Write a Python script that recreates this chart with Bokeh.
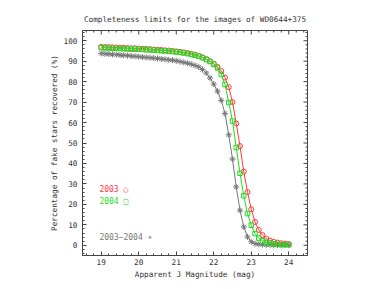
from bokeh.plotting import figure
from bokeh.models import SingleIntervalTicker, Range1d, Label
from bokeh.embed import file_html
from bokeh.resources import INLINE

# ---- data ----
mag = [19.0, 19.1, 19.2, 19.3, 19.4, 19.5, 19.6, 19.7, 19.8, 19.9,
       20.0, 20.1, 20.2, 20.3, 20.4, 20.5, 20.6, 20.7, 20.8, 20.9,
       21.0, 21.1, 21.2, 21.3, 21.4, 21.5, 21.6, 21.7, 21.8, 21.9,
       22.0, 22.1, 22.2, 22.3, 22.4, 22.5, 22.6, 22.7, 22.8, 22.9,
       23.0, 23.1, 23.2, 23.3, 23.4, 23.5, 23.6, 23.7, 23.8, 23.9, 24.0]

pct_2003 = [97.0, 96.9, 96.9, 96.8, 96.7, 96.6, 96.5, 96.4, 96.3, 96.3,
            96.2, 96.1, 96.0, 95.9, 95.7, 95.6, 95.5, 95.3, 95.2, 95.0,
            94.8, 94.6, 94.3, 94.0, 93.6, 93.2, 92.6, 91.9, 91.0, 90.0,
            88.8, 87.2, 85.2, 82.0, 77.3, 70.0, 59.5, 48.5, 36.0, 26.0,
            17.6, 11.4, 7.5, 5.0, 3.3, 2.3, 1.7, 1.3, 1.0, 0.8, 0.6]

pct_2004 = [96.6, 96.5, 96.4, 96.3, 96.3, 96.2, 96.1, 96.0, 95.9, 95.9,
            95.8, 95.7, 95.6, 95.5, 95.4, 95.2, 95.1, 95.0, 94.8, 94.7,
            94.5, 94.3, 94.0, 93.7, 93.3, 92.9, 92.4, 91.7, 90.8, 89.8,
            88.5, 86.7, 83.5, 78.6, 69.8, 60.7, 47.8, 35.2, 24.2, 15.5,
            9.8, 5.7, 3.5, 2.2, 1.5, 1.0, 0.7, 0.5, 0.4, 0.3, 0.3]

pct_both = [93.8, 93.6, 93.5, 93.3, 93.2, 93.0, 92.9, 92.7, 92.5, 92.4,
            92.2, 92.0, 91.8, 91.7, 91.5, 91.3, 91.1, 90.9, 90.7, 90.5,
            90.2, 89.8, 89.4, 89.0, 88.5, 87.9, 87.2, 85.9, 84.2, 81.8,
            78.8, 75.3, 70.8, 64.4, 54.0, 42.1, 28.5, 17.1, 9.0, 4.1,
            1.7, 0.8, 0.5, 0.3, 0.2, 0.2, 0.1, 0.1, 0.1, 0.1, 0.1]

series_labels = ["2003 \u25cb", "2004 \u25a1", "2003\u20132004 \u2217"]

# tick positions (used for the ticks mirrored on the top and right edges)
x_major = [19, 20, 21, 22, 23, 24]
x_minor = [round(18.6 + 0.2 * i, 1) for i in range(30) if round(18.6 + 0.2 * i, 1) not in x_major]
y_major = [0, 10, 20, 30, 40, 50, 60, 70, 80, 90, 100]
y_minor = [v for v in range(-4, 105, 2) if v not in y_major]

X0, X1, Y0, Y1 = 18.5, 24.5, -5, 105

RED = "#ff3b3b"
GREEN = "#22dd22"
GRAY = "#777777"
FONT = "DejaVu Sans Mono"
FS = "7.7px"
FRAME = "#444444"

p = figure(width=373, height=281, output_backend="svg", toolbar_location=None,
           x_range=Range1d(X0, X1), y_range=Range1d(Y0, Y1),
           min_border_left=82, min_border_right=66, min_border_top=30,
           min_border_bottom=0,
           title="Completeness limits for the images of WD0644+375")
p.title.text_font = FONT
p.title.text_font_size = FS
p.title.text_font_style = "normal"
p.title.text_color = "#333333"
p.title.align = "center"
p.title.standoff = 14
p.grid.visible = False
p.outline_line_color = FRAME
p.background_fill_color = "white"
p.border_fill_color = "white"

p.xaxis.ticker = SingleIntervalTicker(interval=1, num_minor_ticks=5)
p.yaxis.ticker = SingleIntervalTicker(interval=10, num_minor_ticks=5)
p.xaxis.axis_label = "Apparent J Magnitude (mag)"
p.yaxis.axis_label = "Percentage of fake stars recovered (%)"
for ax in (p.xaxis[0], p.yaxis[0]):
    ax.major_tick_in = 4
    ax.major_tick_out = 0
    ax.minor_tick_in = 2
    ax.minor_tick_out = 0
    ax.axis_line_color = FRAME
    ax.major_tick_line_color = FRAME
    ax.minor_tick_line_color = FRAME
    ax.major_label_text_font = FONT
    ax.major_label_text_font_size = FS
    ax.major_label_text_color = "#333333"
    ax.axis_label_text_font = FONT
    ax.axis_label_text_font_size = FS
    ax.axis_label_text_font_style = "normal"
    ax.axis_label_text_color = "#333333"
p.xaxis.major_label_standoff = 3
p.xaxis.axis_label_standoff = 2
p.yaxis.major_label_standoff = 5
p.yaxis.axis_label_standoff = 2

# mirrored inward ticks on top and right edges (half of each dash is clipped by the frame)
p.scatter(x_major, [Y1] * len(x_major), marker="dash", angle=1.5708, size=8,
          line_color=FRAME, line_width=1)
p.scatter(x_minor, [Y1] * len(x_minor), marker="dash", angle=1.5708, size=4,
          line_color=FRAME, line_width=1)
p.scatter([X1] * len(y_major), y_major, marker="dash", size=8,
          line_color=FRAME, line_width=1)
p.scatter([X1] * len(y_minor), y_minor, marker="dash", size=4,
          line_color=FRAME, line_width=1)

# series
p.line(mag, pct_both, line_color=GRAY, line_width=1)
p.scatter(mag, pct_both, marker="asterisk", size=6, line_color=GRAY, line_width=1)

p.line(mag, pct_2003, line_color=RED, line_width=1)
p.scatter(mag, pct_2003, marker="circle", size=5, line_color=RED,
          fill_color=None, line_width=1)

p.line(mag, pct_2004, line_color=GREEN, line_width=1)
p.scatter(mag, pct_2004, marker="square", size=4.5, line_color=GREEN,
          fill_color=None, line_width=1)

# in-plot key
for txt, yy, col in zip(series_labels, [27.2, 21.5, 3.9], [RED, GREEN, GRAY]):
    p.add_layout(Label(x=18.95, y=yy, text=txt, text_color=col,
                       text_font=FONT, text_font_size="8px",
                       text_baseline="middle", text_align="left"))

open("out.html", "w").write(file_html(p, INLINE))
